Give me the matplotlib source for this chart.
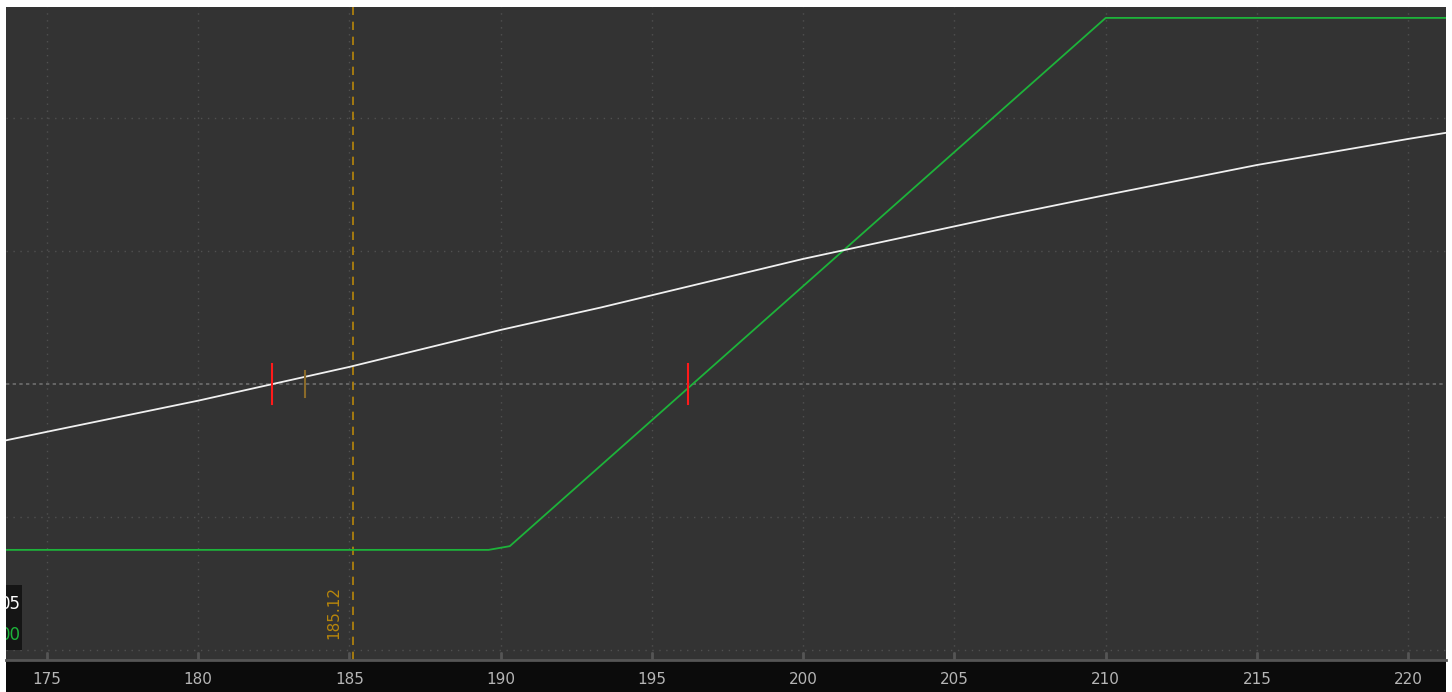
import matplotlib
matplotlib.use('Agg')
import matplotlib.pyplot as plt
from matplotlib.patches import Rectangle

# white curve (theoretical P/L)
white_x = [173.65, 175, 180, 185, 190, 193.3, 200, 206.5, 210, 215, 220, 221.25]
white_y = [-2.12, -1.80, -0.63, 0.64, 2.03, 2.87, 4.70, 6.29, 7.10, 8.23, 9.21, 9.44]

# green curve (expiration P/L)
green_x = [173.65, 189.6, 190.3, 210, 221.25]
green_y = [-6.24, -6.24, -6.1, 13.76, 13.76]

# break-even markers and current price
breakeven_x = [182.44, 196.2]
marker_x = 183.53
price_x = 185.12

x_ticks = [175, 180, 185, 190, 195, 200, 205, 210, 215, 220]
y_grid = [-10, -5, 5, 10]

bg = '#333333'
fig = plt.figure(figsize=(14.52, 6.92), dpi=100, facecolor='white')

# dark strip under the plot for the tick labels
strip = fig.add_axes([6 / 1452, 0, 1440 / 1452, 32 / 692])
strip.set_facecolor('#0b0b0b')
strip.set_xticks([])
strip.set_yticks([])
for s in strip.spines.values():
    s.set_visible(False)

ax = fig.add_axes([6 / 1452, 32 / 692, 1440 / 1452, 653 / 692])
ax.set_facecolor(bg)
ax.set_xlim(173.645, 221.25)
ax.set_ylim(-10.38, 14.17)

# grid
for gx in x_ticks:
    ax.axvline(gx, color='#505050', lw=1, ls=(0, (1, 4)), zorder=1)
for gy in y_grid:
    ax.axhline(gy, color='#505050', lw=1, ls=(0, (1, 4)), zorder=1)
ax.axhline(0, color='#6e6e6e', lw=1.2, ls=(0, (2, 2)), zorder=1)

# lines
ax.plot(green_x, green_y, color='#1db33a', lw=1.3, zorder=3)
ax.plot(white_x, white_y, color='#f0f0f0', lw=1.3, zorder=3)

# current price line
ax.axvline(price_x, color='#b8860b', lw=1.2, ls=(0, (5, 4)), zorder=2)
ax.text(price_x - 0.4, -8.6, f'{price_x:.2f}', color='#b8860b', rotation=90,
        ha='right', va='center', fontsize=11)

# markers
for bx in breakeven_x:
    ax.plot([bx, bx], [-0.75, 0.75], color='#ff1a1a', lw=1.5, zorder=4)
ax.plot([marker_x, marker_x], [-0.48, 0.48], color='#8a6a2a', lw=1.5, zorder=4)

# small legend box cut off on the left
ax.add_patch(Rectangle((173.645, -10.0), 0.53, 2.45, fc='#151515', ec='none', zorder=6))
ax.text(174.15, -8.27, '05', color='white', fontsize=12, ha='right', va='center',
        zorder=7, clip_on=True)
ax.text(174.15, -9.44, '00', color='#1db33a', fontsize=12, ha='right', va='center',
        zorder=7, clip_on=True)

# axis styling
ax.set_xticks(x_ticks)
ax.set_yticks([])
ax.tick_params(axis='x', direction='in', length=6, width=2, color='#555555',
               labelcolor='#b5b5b5', labelsize=11, pad=9)
for side in ['top', 'left', 'right']:
    ax.spines[side].set_visible(False)
ax.spines['bottom'].set_color('#555555')
ax.spines['bottom'].set_linewidth(2)

fig.savefig('out.png', dpi=100, facecolor='white')
